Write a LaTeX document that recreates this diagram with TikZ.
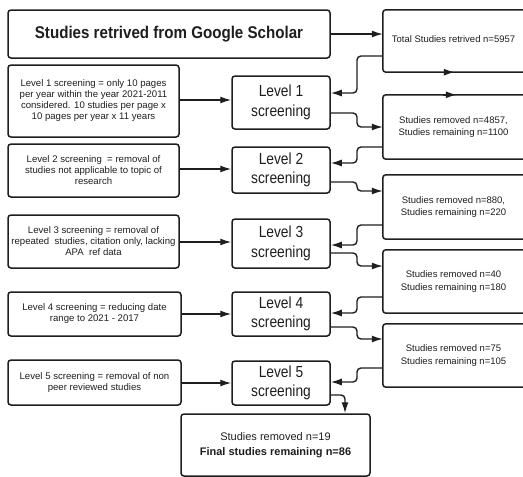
\documentclass[tikz,border=0pt]{standalone}
\usepackage{fontspec}
\setmainfont{Liberation Sans}
\newfontfamily\titlefont[FakeStretch=0.89]{Liberation Sans}
\newfontfamily\lvlfont[FakeStretch=0.86]{Liberation Sans}
\usetikzlibrary{arrows.meta,calc}
\definecolor{ink}{RGB}{30,30,30}
\tikzset{
  box/.style={draw=ink, line width=1.5pt, rounded corners=3pt, align=center, inner sep=0pt, text=ink},
  smalltxt/.style={font=\fontsize{9.6}{11}\selectfont},
  lbox/.style={box, smalltxt, minimum width=171pt},
  lvl/.style={box, minimum width=98pt, font=\lvlfont\fontsize{16}{19.5}\selectfont},
  rbox/.style={align=center, inner sep=0pt, text=ink, minimum width=141pt, font=\fontsize{9.5}{12.5}\selectfont},
  outline/.style={draw=ink, line width=1.5pt, rounded corners=3pt},
  arr/.style={draw=ink, line width=1.4pt, rounded corners=4pt, -{Latex[length=11pt,width=7pt]}}
}
\begin{document}
\begin{tikzpicture}[x=1pt,y=-1pt]
\useasboundingbox (0,0) rectangle (523,477);
\clip (0,0) rectangle (523,477);

% top box
\node[box, minimum width=322pt, minimum height=48pt, font=\titlefont\bfseries\fontsize{17}{20}\selectfont] (top) at (169,34) {Studies retrived from Google Scholar};

% right boxes (cut at right edge)
\node[rbox, minimum height=62pt] (r1) at (453.5,41) {\raisebox{3pt}{Total Studies retrived n=5957}};
\node[rbox, minimum height=64pt] (r2) at (453.5,127) {Studies removed n=4857,\\Studies remaining n=1100};
\node[rbox, minimum height=64pt] (r3) at (453.5,207) {Studies removed n=880,\\Studies remaining n=220};
\node[rbox, minimum height=63pt] (r4) at (453.5,281.5) {Studies removed n=40\\Studies remaining n=180};
\node[rbox, minimum height=63pt] (r5) at (453.5,355.5) {Studies removed n=75\\Studies remaining n=105};
\foreach \r in {r1,r2,r3,r4,r5}{
  \draw[outline] ([xshift=30pt]\r.north east) -| (\r.west) |- ([xshift=30pt]\r.south east);
}

% level boxes
\node[lvl, minimum height=53pt] (l1) at (281,102.5) {Level 1\\screening};
\node[lvl, minimum height=46pt] (l2) at (281,170) {Level 2\\screening};
\node[lvl, minimum height=49pt] (l3) at (281,243.5) {Level 3\\screening};
\node[lvl, minimum height=44pt] (l4) at (281,314) {Level 4\\screening};
\node[lvl, minimum height=44pt] (l5) at (281,383) {Level 5\\screening};

% left boxes
\node[lbox, minimum height=72pt] (b1) at (93.5,101) {Level 1 screening = only 10 pages\\per year within the year 2021-2011\\considered. 10 studies per page x\\10 pages per year x 11 years};
\node[lbox, minimum height=53pt] (b2) at (93.5,170.5) {Level 2 screening\ \ = removal of\\studies not applicable to topic of\\research};
\node[lbox, minimum height=53pt] (b3) at (93.5,241.5) {Level 3 screening = removal of\\repeated\ \ studies, citation only, lacking\\APA\ \ ref data};
\node[lbox, minimum width=173pt, minimum height=44pt] (b4) at (94.5,314) {\raisebox{3pt}{\begin{tabular}{@{}c@{}}Level 4 screening = reducing date\\range to 2021 - 2017\end{tabular}}};
\node[lbox, minimum width=173pt, minimum height=45pt] (b5) at (94.5,382.5) {\raisebox{2pt}{\begin{tabular}{@{}c@{}}Level 5 screening = removal of non\\peer reviewed studies\end{tabular}}};

% final box
\node[box, minimum width=189pt, minimum height=62pt, font=\fontsize{11}{15}\selectfont] (fin) at (275.5,445) {\raisebox{1.5pt}{\begin{tabular}{@{}c@{}}Studies removed n=19\\\textbf{Final studies remaining n=86}\end{tabular}}};

% arrows
\coordinate (mx) at (357,0);
\coordinate (fx) at (345,0);
\draw[arr] (top.east) -- (r1.west |- top.east);
\draw[arr] ([xshift=58pt]r1.south west) -- ([xshift=72pt]r1.south west);
\draw[arr] ([xshift=60pt]r2.north west) -- ([xshift=74pt]r2.north west);

\draw[arr] (b1.east |- 0,100) -- (l1.west |- 0,100);
\draw[arr] (b2.east |- 0,169) -- (l2.west |- 0,169);
\draw[arr] (b3.east |- 0,242) -- (l3.west |- 0,242);
\draw[arr] (b4.east |- 0,314) -- (l4.west |- 0,314);
\draw[arr] (b5.east |- 0,383) -- (l5.west |- 0,383);

\draw[arr] (r1.west |- 0,56) -- (mx |- 0,56) -- (mx |- 0,93) -- (l1.east |- 0,93);
\draw[arr] (l1.east |- 0,113) -- (mx |- 0,113) -- (mx |- 0,127) -- (r2.west |- 0,127);
\draw[arr] (r2.west |- 0,147) -- (mx |- 0,147) -- (mx |- 0,163) -- (l2.east |- 0,163);
\draw[arr] (l2.east |- 0,182) -- (mx |- 0,182) -- (mx |- 0,191) -- (r3.west |- 0,191);
\draw[arr] (r3.west |- 0,225) -- (mx |- 0,225) -- (mx |- 0,245) -- (l3.east |- 0,245);
\draw[arr] (l3.east |- 0,253) -- (mx |- 0,253) -- (mx |- 0,266) -- (r4.west |- 0,266);
\draw[arr] (r4.west |- 0,297) -- (mx |- 0,297) -- (mx |- 0,313) -- (l4.east |- 0,313);
\draw[arr] (l4.east |- 0,327) -- (mx |- 0,327) -- (mx |- 0,339) -- (r5.west |- 0,339);
\draw[arr] (r5.west |- 0,368) -- (mx |- 0,368) -- (mx |- 0,382) -- (l5.east |- 0,382);
\draw[arr] (l5.east |- 0,395) -- (fx |- 0,395) -- (fx |- fin.north);
\end{tikzpicture}
\end{document}
